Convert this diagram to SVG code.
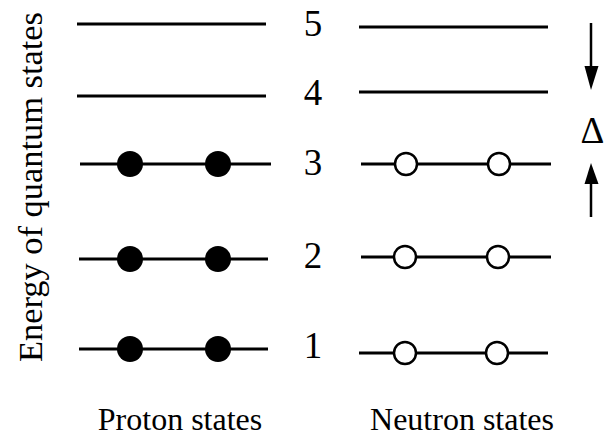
<svg xmlns="http://www.w3.org/2000/svg" width="615" height="438" viewBox="0 0 615 438">
<style>
.lv{stroke:#000;stroke-width:3;fill:none}
.p{fill:#000}
.n{fill:#fff;stroke:#000;stroke-width:2.5}
.t{font-family:'Liberation Serif','Times New Roman',serif;fill:#000}
.ar{stroke:#000;stroke-width:2.5;fill:none}
.ah{fill:#000}
</style>
<rect width="615" height="438" fill="#fff"/>
<g id="axis-label"><text class="t" transform="translate(42,362) rotate(-90)" font-size="34" textLength="350" lengthAdjust="spacingAndGlyphs">Energy of quantum states</text></g>
<g id="proton">
<line class="lv" x1="77" y1="24" x2="266" y2="24"/>
<line class="lv" x1="77" y1="96" x2="266" y2="96"/>
<line class="lv" x1="80" y1="164" x2="271" y2="164"/>
<line class="lv" x1="79" y1="259" x2="268" y2="259"/>
<line class="lv" x1="79" y1="349" x2="268" y2="349"/>
<circle class="p" cx="130" cy="164" r="13"/><circle class="p" cx="218" cy="164" r="13"/>
<circle class="p" cx="130" cy="259" r="13"/><circle class="p" cx="218" cy="259" r="13"/>
<circle class="p" cx="130" cy="349" r="13"/><circle class="p" cx="218" cy="349" r="13"/>
</g>
<g id="neutron">
<line class="lv" x1="359" y1="27" x2="548" y2="27"/>
<line class="lv" x1="359" y1="92" x2="548" y2="92"/>
<line class="lv" x1="361" y1="164" x2="551" y2="164"/>
<line class="lv" x1="361" y1="257" x2="551" y2="257"/>
<line class="lv" x1="359" y1="353" x2="548" y2="353"/>
<circle class="n" cx="406" cy="164" r="11"/><circle class="n" cx="499" cy="164" r="11"/>
<circle class="n" cx="405" cy="257" r="11"/><circle class="n" cx="498" cy="257" r="11"/>
<circle class="n" cx="405" cy="353" r="11"/><circle class="n" cx="497" cy="353" r="11"/>
</g>
<g id="numbers" class="t" font-size="37" text-anchor="middle">
<text x="313" y="36">5</text>
<text x="313" y="105">4</text>
<text x="313" y="175">3</text>
<text x="313" y="268">2</text>
<text x="313" y="358">1</text>
</g>
<g id="connectors">
<line class="ar" x1="591" y1="23" x2="591" y2="70"/>
<polygon class="ah" points="584.5,66 598.5,66 591,90"/>
<line class="ar" x1="591" y1="180" x2="591" y2="217"/>
<polygon class="ah" points="584.5,184 598.5,184 591,163"/>
</g>
<g id="delta"><text class="t" x="592.5" y="143" font-size="37" text-anchor="middle">Δ</text></g>
<g id="labels" class="t" font-size="32" text-anchor="middle">
<text x="180" y="430">Proton states</text>
<text x="462" y="430">Neutron states</text>
</g>
</svg>
